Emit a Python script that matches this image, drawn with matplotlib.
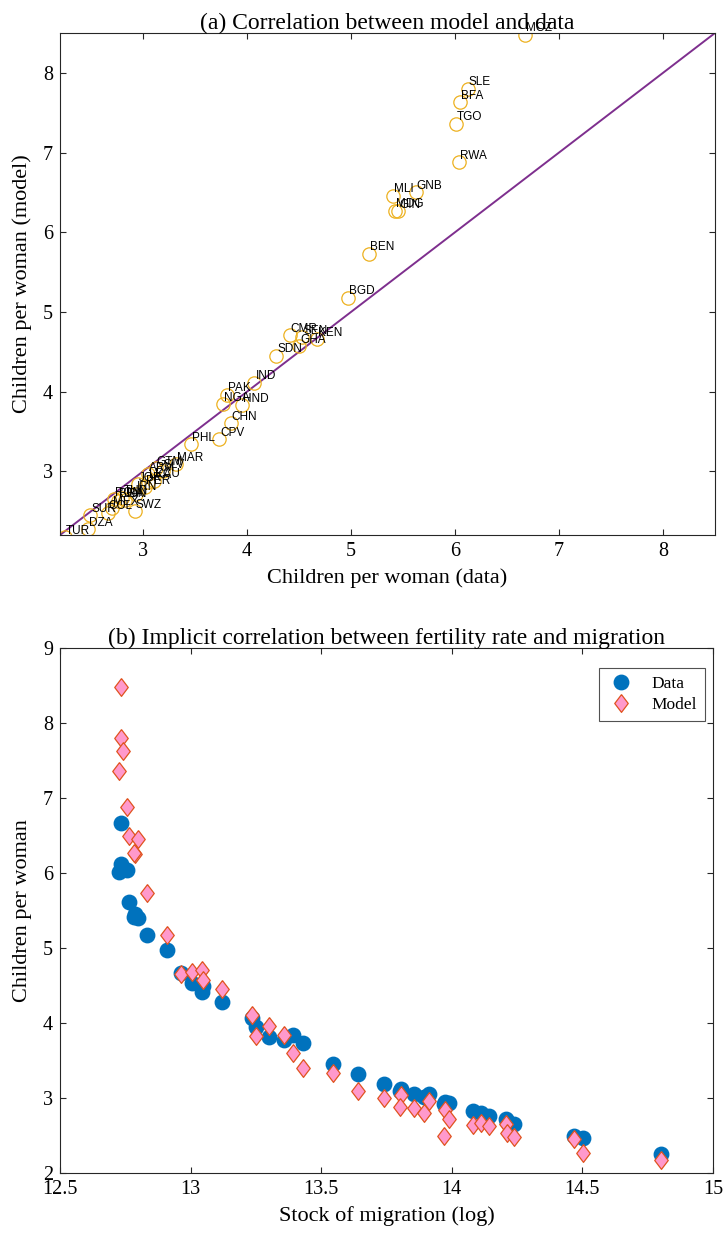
import matplotlib.pyplot as plt

# countries, observed fertility, model fertility, stock of migration (log)
countries = ["MOZ", "SLE", "BFA", "TGO", "RWA", "GNB", "MLI", "GIN", "MDG", "BEN",
             "BGD", "KEN", "SEN", "CMR", "GHA", "SDN", "IND", "HND", "PAK", "NGA",
             "CHN", "CPV", "PHL", "MAR", "SLV", "GTM", "ECU", "LKA", "PER", "ARM",
             "JOR", "IRN", "SWZ", "IDN", "TUN", "BRA", "ROM", "MEX", "COL", "SUR",
             "DZA", "TUR"]
data = [6.67, 6.12, 6.05, 6.01, 6.04, 5.62, 5.40, 5.45, 5.42, 5.17,
        4.97, 4.67, 4.53, 4.41, 4.50, 4.28, 4.07, 3.95, 3.81, 3.77,
        3.84, 3.73, 3.46, 3.32, 3.19, 3.12, 3.10, 3.05, 3.02, 3.05,
        2.95, 2.93, 2.92, 2.83, 2.80, 2.76, 2.72, 2.70, 2.66, 2.49,
        2.47, 2.25]
model = [8.48, 7.80, 7.63, 7.36, 6.88, 6.50, 6.46, 6.26, 6.27, 5.73,
         5.18, 4.66, 4.68, 4.71, 4.57, 4.45, 4.11, 3.83, 3.96, 3.84,
         3.60, 3.40, 3.34, 3.09, 3.00, 3.04, 2.88, 2.87, 2.80, 2.96,
         2.84, 2.72, 2.50, 2.64, 2.67, 2.63, 2.65, 2.54, 2.48, 2.45,
         2.27, 2.17]
migration = [12.734, 12.734, 12.740, 12.726, 12.757, 12.764, 12.799, 12.787, 12.783, 12.833,
             12.910, 12.964, 13.006, 13.044, 13.048, 13.121, 13.236, 13.251, 13.300, 13.358,
             13.393, 13.431, 13.546, 13.642, 13.741, 13.806, 13.800, 13.856, 13.895, 13.914,
             13.975, 13.990, 13.970, 14.080, 14.110, 14.144, 14.209, 14.213, 14.240, 14.466,
             14.504, 14.800]

serif = "Liberation Serif"
sans = "Liberation Sans"
axcol = "#262626"
diamond = [(0, 1), (0.76, 0), (0, -1), (-0.76, 0), (0, 1)]

fig = plt.figure(figsize=(7.28, 12.37), dpi=100)

# (a) model vs data
ax1 = fig.add_axes([60/728, 1-535/1237, 655/728, 502/1237])
ax1.plot([2.2, 8.5], [2.2, 8.5], color="#7E2F8E", lw=1.4, zorder=1)
ax1.plot(data, model, "o", ms=9.6, mfc="none", mec="#EDB120", mew=0.9, zorder=2)
for name, x, y in zip(countries, data, model):
    ax1.text(x + 0.01, y + 0.08, name, fontsize=8.5, family=sans, va="center", ha="left")
ax1.set_xlim(2.2, 8.5)
ax1.set_ylim(2.2, 8.5)
ax1.set_xticks([3, 4, 5, 6, 7, 8])
ax1.set_yticks([3, 4, 5, 6, 7, 8])
ax1.set_title("(a) Correlation between model and data", family=serif, fontsize=17, pad=3)
ax1.set_xlabel("Children per woman (data)", family=serif, fontsize=16, labelpad=5)
ax1.set_ylabel("Children per woman (model)", family=serif, fontsize=16, labelpad=8)

# (b) fertility vs migration
ax2 = fig.add_axes([60/728, 1-1173/1237, 653/728, 525/1237])
ax2.plot(migration, data, "o", ms=10.4, color="#0072BD", label="Data", zorder=2)
ax2.plot(migration, model, marker=diamond, ls="none", ms=12.8, mfc="#FF99CC",
         mec="#E0531F", mew=0.9, label="Model", zorder=3)
ax2.set_xlim(12.5, 15)
ax2.set_ylim(2, 9)
ax2.set_xticks([12.5, 13, 13.5, 14, 14.5, 15])
ax2.set_xticklabels(["12.5", "13", "13.5", "14", "14.5", "15"])
ax2.set_yticks(range(2, 10))
ax2.set_title("(b) Implicit correlation between fertility rate and migration",
              family=serif, fontsize=17, pad=3)
ax2.set_xlabel("Stock of migration (log)", family=serif, fontsize=16, labelpad=5)
ax2.set_ylabel("Children per woman", family=serif, fontsize=16, labelpad=8)
leg = ax2.legend(loc="upper right", bbox_to_anchor=(0.988, 0.962),
                 prop={"family": serif, "size": 12.5}, fancybox=False,
                 edgecolor=axcol, borderaxespad=0, handlelength=1.6, handletextpad=1.0,
                 borderpad=0.45, labelspacing=0.3)
leg.get_frame().set_linewidth(0.8)

for ax in (ax1, ax2):
    ax.tick_params(direction="in", top=True, right=True, length=4.5, width=0.8,
                   colors=axcol, labelsize=14.5, pad=5)
    for lab in ax.get_xticklabels() + ax.get_yticklabels():
        lab.set_family(serif)
        lab.set_color("black")
    for sp in ax.spines.values():
        sp.set_color(axcol)
        sp.set_linewidth(0.8)

fig.savefig("out.png", dpi=100)
